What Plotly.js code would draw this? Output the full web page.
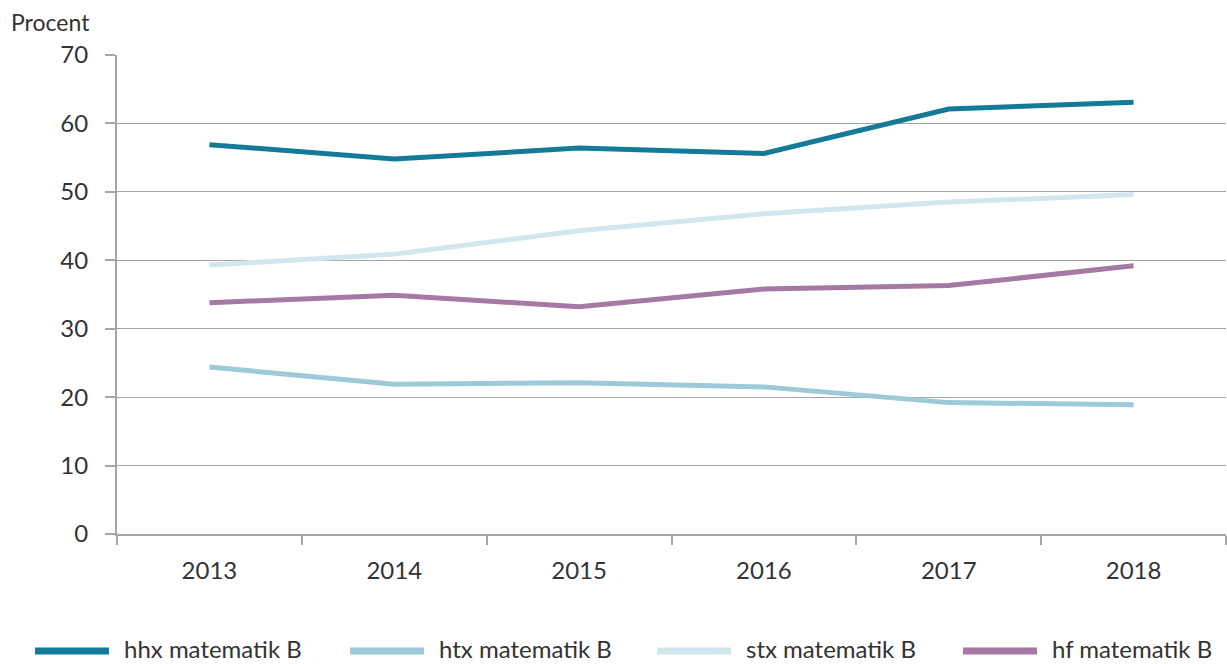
<!DOCTYPE html>
<html>
<head>
<meta charset="utf-8">
<script src="https://cdn.plot.ly/plotly-3.0.1.min.js"></script>
<style>html,body{margin:0;padding:0;background:#fff;}#chart{width:1227px;height:664px;}</style>
</head>
<body>
<div id="chart"></div>
<script>
const years = ['2013', '2014', '2015', '2016', '2017', '2018'];
const hhx = [56.9, 54.8, 56.4, 55.6, 62.1, 63.1];
const htx = [24.4, 21.9, 22.1, 21.5, 19.2, 18.9];
const stx = [39.3, 40.9, 44.3, 46.8, 48.5, 49.6];
const hf = [33.8, 34.9, 33.2, 35.8, 36.3, 39.2];
const seriesNames = ['hhx matematik B', 'htx matematik B', 'stx matematik B', 'hf matematik B'];
const seriesColors = ['#137b97', '#9ccad8', '#d0e7ed', '#a679a5'];
const seriesData = [hhx, htx, stx, hf];

const W = 1227;
const traces = seriesData.map((d, i) => ({
  x: years, y: d, type: 'scatter', mode: 'lines', name: seriesNames[i],
  line: {color: seriesColors[i], width: 5}, showlegend: false
}));
const order = [2, 1, 3, 0];
const orderedTraces = order.map(i => traces[i]);

const plotW = W - 117 - 1;
const plotH = 664 - 55 - 130;
const FONT = 'Lato, sans-serif';
const shapes = [];
const annotations = [{
  text: 'Procent', xref: 'paper', yref: 'paper', x: (9 - 117) / plotW, y: (534 - 22) / plotH,
  xanchor: 'left', yanchor: 'middle', showarrow: false,
  font: {family: FONT, size: 23, color: '#333'}
}];
const legendX = [35, 350, 657, 963];
legendX.forEach((lx, i) => {
  const ySw = -(651 - 534) / plotH;
  const yTx = -(648 - 534) / plotH;
  shapes.push({
    type: 'line', xref: 'paper', yref: 'paper',
    x0: (lx - 117) / plotW, x1: (lx + 74 - 117) / plotW, y0: ySw, y1: ySw,
    line: {color: seriesColors[i], width: 7}
  });
  annotations.push({
    text: seriesNames[i], xref: 'paper', yref: 'paper',
    x: (lx + 88 - 117) / plotW, y: yTx, xanchor: 'left', yanchor: 'middle',
    borderpad: 0, showarrow: false, font: {family: FONT, size: 24, color: '#333'}
  });
});

const layout = {
  width: W, height: 664,
  margin: {l: 117, r: 1, t: 55, b: 130},
  paper_bgcolor: '#fff', plot_bgcolor: '#fff',
  font: {family: FONT, size: 24, color: '#333'},
  showlegend: false,
  xaxis: {
    type: 'category', range: [-0.5, 5.5], tickson: 'boundaries',
    ticks: 'outside', ticklen: 9, tickwidth: 2, tickcolor: '#a6a6a6',
    showline: true, linecolor: '#a6a6a6', linewidth: 2, showgrid: false,
    tickfont: {family: FONT, size: 24, color: '#333'}, ticklabelstandoff: 14, fixedrange: true
  },
  yaxis: {
    range: [0, 70], dtick: 10, tick0: 0,
    ticks: 'outside', ticklen: 10, tickwidth: 2, tickcolor: '#a6a6a6',
    showline: true, linecolor: '#a6a6a6', linewidth: 2,
    showgrid: true, gridcolor: '#a6a6a6', gridwidth: 1, zeroline: false,
    tickfont: {family: FONT, size: 24, color: '#333'}, ticklabelstandoff: 12, fixedrange: true
  },
  shapes: shapes,
  annotations: annotations
};

Plotly.newPlot('chart', orderedTraces, layout, {displayModeBar: false, staticPlot: true});
</script>
</body>
</html>
